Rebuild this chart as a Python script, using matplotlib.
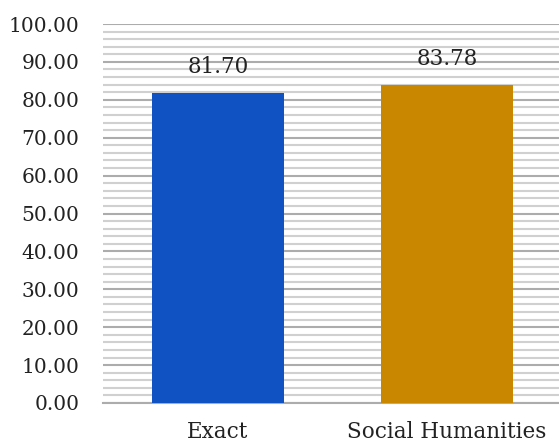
import matplotlib.pyplot as plt
from matplotlib.ticker import MultipleLocator

categories = ['Exact', 'Social Humanities']
values = [81.70, 83.78]
colors = ['#1152c2', '#c98700']

plt.rcParams['font.family'] = ['DejaVu Serif']

fig = plt.figure(figsize=(5.59, 4.43), dpi=100)
ax = fig.add_axes([0.1845, 0.0903, 0.8205, 0.8555])

x = range(len(categories))
bars = ax.bar(x, values, width=0.575, color=colors, zorder=3)

for b, v in zip(bars, values):
    ax.annotate('%.2f' % v, (b.get_x() + b.get_width() / 2, v),
                xytext=(0, 11), textcoords='offset points',
                ha='center', va='bottom', fontsize=15.5, color='#222222')

ax.set_xlim(-0.5, 1.5)
ax.set_ylim(0, 100)
ax.yaxis.set_major_locator(MultipleLocator(10))
ax.yaxis.set_minor_locator(MultipleLocator(2))
ax.yaxis.set_major_formatter(lambda v, p: '%.2f' % v)
ax.set_xticks(list(x))
ax.set_xticklabels(categories)

ax.grid(axis='y', which='major', color='#acacac', linewidth=1.5, zorder=0)
ax.grid(axis='y', which='minor', color='#d0d0d0', linewidth=1.5, zorder=0)

for s in ['top', 'right', 'left']:
    ax.spines[s].set_visible(False)
ax.spines['bottom'].set_color('#acacac')
ax.spines['bottom'].set_linewidth(1.5)

ax.tick_params(axis='y', which='both', length=0, pad=17, labelsize=14.5, labelcolor='#222222')
ax.tick_params(axis='x', length=0, pad=13, labelsize=15.5, labelcolor='#222222')

plt.savefig('out.png', dpi=100)
